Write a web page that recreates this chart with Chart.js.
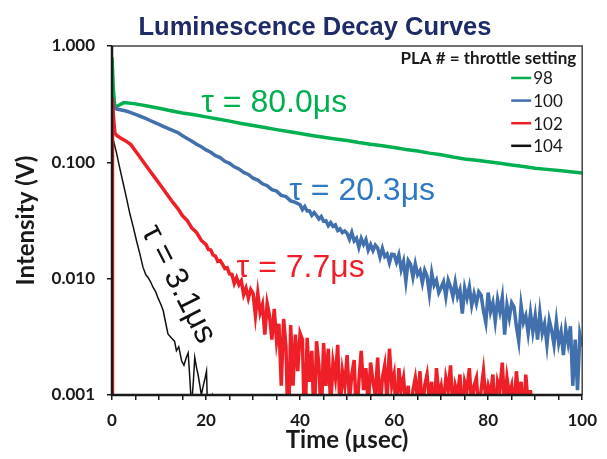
<!DOCTYPE html>
<html>
<head>
<meta charset="utf-8">
<script src="https://cdn.jsdelivr.net/npm/chart.js@4.4.0/dist/chart.umd.min.js"></script>
<style>
  html, body { margin: 0; padding: 0; background: #fff; }
  #wrap { width: 607px; height: 459px; }
</style>
</head>
<body>
<div id="wrap"><canvas id="decay" width="607" height="459"></canvas></div>
<script>
// values (time in µs, intensity in V)
const chartTitle = 'Luminescence Decay Curves';
const xTitle = 'Time (µsec)';
const yTitle = 'Intensity (V)';
const legendTitle = 'PLA # = throttle setting';
const seriesLabels = ['98', '100', '102', '104'];
const tauLabels = ['τ = 80.0μs', 'τ = 20.3μs', 'τ = 7.7μs', 'τ = 3.1μs'];
const xLabelValues = [0, 20, 40, 60, 80, 100];
const yTickValues = [0.001, 0.01, 0.1, 1];
const yTickLabels = ['0.001', '0.010', '0.100', '1.000'];

const time98 = [0, 0.3, 0.6, 1.2, 2.5, 5, 7.5, 10, 12.5, 15, 17.5, 20, 22.5, 25, 27.5, 30, 32.5, 35, 37.5, 40,
  42.5, 45, 47.5, 50, 52.5, 55, 57.5, 60, 62.5, 65, 67.5, 70, 72.5, 75, 77.5, 80, 82.5, 85, 87.5, 90, 92.5, 95, 97.5, 100];
const volt98 = [0.80, 0.42, 0.30, 0.305, 0.326, 0.318, 0.305, 0.292, 0.278, 0.266, 0.256, 0.246, 0.236, 0.226, 0.216, 0.207, 0.199, 0.191, 0.184, 0.177,
  0.170, 0.164, 0.159, 0.154, 0.148, 0.143, 0.139, 0.134, 0.129, 0.125, 0.120, 0.116, 0.111, 0.107, 0.104, 0.101, 0.098, 0.095, 0.092, 0.089, 0.087, 0.085, 0.083, 0.081];

const time100 = [0, 0.3, 1, 2, 3, 4, 5, 6, 7, 8, 9, 10, 11, 12, 13, 14, 15, 16, 17, 18, 19,
  20, 21, 22, 23, 24, 25, 26, 27, 28, 29, 30, 31, 32, 33, 34, 35, 36, 37, 38, 39,
  40, 40.5, 41, 41.5, 42, 42.5, 43, 43.5, 44, 44.5, 45, 45.5, 46, 46.5, 47, 47.5, 48, 48.5, 49, 49.5,
  50, 50.5, 51, 51.5, 52, 52.5, 53, 53.5, 54, 54.5, 55, 55.5, 56, 56.5, 57, 57.5, 58, 58.5, 59, 59.5,
  60, 60.5, 61, 61.5, 62, 62.5, 63, 63.5, 64, 64.5, 65, 65.5, 66, 66.5, 67, 67.5, 68, 68.5, 69, 69.5,
  70, 70.5, 71, 71.5, 72, 72.5, 73, 73.5, 74, 74.5, 75, 75.5, 76, 76.5, 77, 77.5, 78, 78.5, 79, 79.5,
  80, 80.5, 81, 81.5, 82, 82.5, 83, 83.5, 84, 84.5, 85, 85.5, 86, 86.5, 87, 87.5, 88, 88.5, 89, 89.5,
  90, 90.5, 91, 91.5, 92, 92.5, 93, 93.5, 94, 94.5, 95, 95.5, 96, 96.5, 97, 97.5, 98, 98.5, 99, 99.5, 100];
const volt100 = [0.36, 0.30, 0.287, 0.282, 0.276, 0.268, 0.258, 0.249, 0.240, 0.230, 0.221, 0.212, 0.203, 0.195, 0.187, 0.180, 0.169, 0.160, 0.152, 0.143, 0.136,
  0.128, 0.122, 0.114, 0.110, 0.102, 0.0980, 0.0915, 0.0878, 0.0818, 0.0787, 0.0730, 0.0703, 0.0654, 0.0630, 0.0582, 0.0565, 0.0520, 0.0507, 0.0466, 0.0452,
  0.0432, 0.0392, 0.0417, 0.0382, 0.0383, 0.0350, 0.0370, 0.0349, 0.0326, 0.0342, 0.0311, 0.0314, 0.0285, 0.0303, 0.0282, 0.0290, 0.0259, 0.0268, 0.0249, 0.0257,
  0.0245, 0.0218, 0.0250, 0.0211, 0.0223, 0.0186, 0.0221, 0.0197, 0.0217, 0.0176, 0.0196, 0.0174, 0.0194, 0.0183, 0.0153, 0.0182, 0.0155, 0.0163, 0.0137, 0.0162,
  0.0161, 0.0138, 0.0160, 0.0120, 0.0141, 0.0095, 0.0143, 0.0133, 0.0103, 0.0134, 0.0108, 0.0117, 0.0092, 0.0118, 0.0105, 0.0074, 0.0112, 0.0088, 0.0097, 0.0076,
  0.0084, 0.0094, 0.0070, 0.0097, 0.0085, 0.0070, 0.0093, 0.0070, 0.0080, 0.0050, 0.0083, 0.0068, 0.0085, 0.0059, 0.0074, 0.0061, 0.0077, 0.0072, 0.0053, 0.0042,
  0.0076, 0.0052, 0.0062, 0.0043, 0.0066, 0.0052, 0.0069, 0.0033, 0.0059, 0.0046, 0.0062, 0.0057, 0.0039, 0.0029, 0.0059, 0.0042, 0.0048, 0.0034, 0.0051, 0.0035,
  0.0048, 0.0030, 0.0051, 0.0034, 0.0041, 0.0027, 0.0044, 0.0036, 0.0027, 0.0043, 0.0028, 0.0035, 0.0022, 0.0037, 0.0028, 0.0039, 0.0012, 0.0030, 0.0011, 0.0033, 0.0026];

const time102 = [0, 0.1, 0.3, 0.6, 1, 2, 3, 4, 5, 6, 7, 8, 9, 10, 11, 12, 13, 14, 15, 16, 17, 18, 19,
  20, 20.5, 21, 21.5, 22, 22.5, 23, 23.5, 24, 24.5, 25, 25.5, 26, 26.5, 27, 27.5, 28, 28.5, 29, 29.5,
  30, 30.5, 31, 31.5, 32, 32.5, 33, 33.5, 34, 34.5, 35, 35.5, 36, 36.5, 37, 37.5, 38, 38.5, 39, 39.5,
  40, 40.5, 41, 41.5, 42, 42.5, 43, 43.5, 44, 44.5, 45, 45.5, 46, 46.5, 47, 47.5, 48, 48.5, 49, 49.5,
  50, 50.5, 51, 51.5, 52, 52.5, 53, 53.5, 54, 54.5, 55, 55.5, 56, 56.5, 57, 57.5, 58, 58.5, 59, 59.5,
  60, 60.5, 61, 61.5, 62, 62.5, 63, 63.5, 64, 64.5, 65, 65.5, 66, 66.5, 67, 67.5, 68, 68.5, 69, 69.5,
  70, 70.5, 71, 71.5, 72, 72.5, 73, 73.5, 74, 74.5, 75, 75.5, 76, 76.5, 77, 77.5, 78, 78.5, 79, 79.5,
  80, 80.5, 81, 81.5, 82, 82.5, 83, 83.5, 84, 84.5, 85, 85.5, 86, 86.5, 87, 87.5, 88, 88.5, 89, 89.5];
const volt102 = [0.0008, 0.355, 0.25, 0.18, 0.17, 0.16, 0.152, 0.142, 0.125, 0.110, 0.0968, 0.0852, 0.0750, 0.0660, 0.0581, 0.0511, 0.0450, 0.0400, 0.0347, 0.0316, 0.0272, 0.0249, 0.0213,
  0.0196, 0.0178, 0.0176, 0.0160, 0.0156, 0.0141, 0.0143, 0.0133, 0.0122, 0.0124, 0.0110, 0.0109, 0.0091, 0.0102, 0.0089, 0.0096, 0.0073, 0.0083, 0.0068, 0.0081,
  0.0075, 0.0048, 0.0075, 0.0051, 0.0060, 0.0033, 0.0061, 0.0048, 0.0030, 0.0055, 0.0029, 0.0041, 0.0012, 0.0045, 0.0026, 0.0004, 0.0040, 0.0012, 0.0033, 0.0016,
  0.0034, 0.0030, 0.0004, 0.0031, 0.0013, 0.0024, 0.0005, 0.0029, 0.0018, 0.0006, 0.0028, 0.0012, 0.0025, 0.0008, 0.0019, 0.0014, 0.0027, 0.0007, 0.0016, 0.0012,
  0.0022, 0.0009, 0.0015, 0.0020, 0.0006, 0.0013, 0.0024, 0.0011, 0.0017, 0.0008, 0.0019, 0.0013, 0.0010, 0.0021, 0.0007, 0.0014, 0.0018, 0.0009, 0.0025, 0.0012,
  0.0015, 0.0006, 0.0017, 0.0011, 0.0014, 0.0008, 0.0012, 0.0005, 0.0011, 0.0014, 0.0009, 0.0016, 0.0007, 0.0012, 0.0015, 0.0009, 0.0013, 0.0006, 0.0017, 0.0010,
  0.0012, 0.0008, 0.0014, 0.0011, 0.0018, 0.0007, 0.0012, 0.0010, 0.0015, 0.0006, 0.0013, 0.0011, 0.0017, 0.0008, 0.0012, 0.0014, 0.0007, 0.0011, 0.0016, 0.0009,
  0.0012, 0.0010, 0.0015, 0.0006, 0.0013, 0.0011, 0.0019, 0.0008, 0.0014, 0.0010, 0.0012, 0.0007, 0.0016, 0.0009, 0.0013, 0.0006, 0.0015, 0.0008, 0.0011, 0.0004];

const time104 = [0, 0.3, 1, 1.5, 2.4, 3.1, 3.8, 4.5, 5.2, 5.9, 6.6, 7.2, 7.7, 8.2, 8.75, 9.3, 9.8, 10.4, 10.9, 11.4,
  11.9, 12.6, 13.3, 13.7, 14.2, 14.8, 15.3, 15.8, 16.2, 16.5, 16.9, 17.3, 17.6, 18, 18.3, 18.7, 19, 19.4, 19.8, 20.1,
  20.3, 20.8, 21.3, 21.6];
const volt104 = [0.165, 0.154, 0.119, 0.095, 0.0654, 0.049, 0.0361, 0.028, 0.0213, 0.0165, 0.0125, 0.0108, 0.0102, 0.0094, 0.0084, 0.0077, 0.0068, 0.0060, 0.0053, 0.0042,
  0.00335, 0.0031, 0.0029, 0.0024, 0.0026, 0.00197, 0.0018, 0.0021, 0.0023, 0.0015, 0.0008, 0.0013, 0.0021, 0.0017, 0.0015, 0.0012, 0.0010, 0.0012, 0.0014, 0.0016,
  0.0008, 0.0009, 0.0010, 0.0008];

const toPoints = (t, v) => t.map((x, i) => ({ x: x, y: v[i] }));

// title drawn a bit right of the canvas centre, like the original slide
const slideTitle = {
  id: 'slideTitle',
  afterDraw(chart) {
    const { ctx } = chart;
    ctx.save();
    ctx.font = 'bold 25.5px "Liberation Sans"';
    ctx.fillStyle = '#1f2b66';
    ctx.textAlign = 'center';
    ctx.textBaseline = 'alphabetic';
    ctx.fillText(chartTitle, 315, 35);
    ctx.restore();
  }
};

// legend drawn inside the plot, top right
const legendBox = {
  id: 'legendBox',
  afterDraw(chart) {
    const { ctx, chartArea } = chart;
    ctx.save();
    ctx.fillStyle = '#1a1a1a';
    ctx.textBaseline = 'middle';
    ctx.textAlign = 'right';
    ctx.font = 'bold 17px Lato';
    ctx.fillText(legendTitle, chartArea.right - 6, chartArea.top + 13);
    ctx.font = '17px Lato';
    ctx.textAlign = 'left';
    chart.data.datasets.forEach((ds, i) => {
      const y = chartArea.top + 32 + i * 22.6;
      const x0 = chartArea.right - 71;
      ctx.strokeStyle = ds.borderColor;
      ctx.lineWidth = 2.5;
      ctx.beginPath();
      ctx.moveTo(x0, y);
      ctx.lineTo(x0 + 20, y);
      ctx.stroke();
      ctx.fillText(ds.label, x0 + 22, y + 1);
    });
    ctx.restore();
  }
};

// box round the plot, axis lines on top of the traces
const frame = {
  id: 'frame',
  afterDatasetsDraw(chart) {
    const { ctx, chartArea: a } = chart;
    ctx.save();
    ctx.strokeStyle = '#444';
    ctx.lineWidth = 1.5;
    ctx.beginPath();
    ctx.moveTo(a.left, a.top);
    ctx.lineTo(a.right, a.top);
    ctx.lineTo(a.right, a.bottom);
    ctx.stroke();
    ctx.strokeStyle = '#1a1a1a';
    ctx.lineWidth = 2.5;
    ctx.beginPath();
    ctx.moveTo(a.left, a.top);
    ctx.lineTo(a.left, a.bottom);
    ctx.lineTo(a.right, a.bottom);
    ctx.stroke();
    ctx.restore();
  }
};

// tau notes placed in data coordinates
const tauNotes = {
  id: 'tauNotes',
  afterDatasetsDraw(chart, args, opts) {
    const { ctx, scales } = chart;
    opts.items.forEach(n => {
      ctx.save();
      ctx.translate(scales.x.getPixelForValue(n.x), scales.y.getPixelForValue(n.y));
      ctx.rotate(n.angle * Math.PI / 180);
      ctx.font = '32px "Liberation Sans"';
      ctx.fillStyle = n.color;
      ctx.textAlign = 'left';
      ctx.textBaseline = 'middle';
      ctx.fillText(n.text, 0, 0);
      ctx.restore();
    });
  }
};

const tickFont = { family: 'Lato', size: 17, weight: 'bold' };
const axisTitleFont = { family: 'Lato', size: 24, weight: 'bold' };

new Chart(document.getElementById('decay'), {
  type: 'line',
  data: {
    datasets: [
      { label: seriesLabels[0], data: toPoints(time98, volt98), borderColor: '#00b050', borderWidth: 3.5, order: 3 },
      { label: seriesLabels[1], data: toPoints(time100, volt100), borderColor: '#4170ad', borderWidth: 3.5, order: 2 },
      { label: seriesLabels[2], data: toPoints(time102, volt102), borderColor: '#ee1f26', borderWidth: 3.5, order: 0 },
      { label: seriesLabels[3], data: toPoints(time104, volt104), borderColor: '#111111', borderWidth: 1.5, order: 1 }
    ]
  },
  options: {
    responsive: false,
    animation: false,
    devicePixelRatio: 1,
    layout: { padding: { left: 0, right: 23, top: 46, bottom: 0 } },
    elements: { point: { radius: 0 }, line: { tension: 0 } },
    plugins: {
      legend: { display: false },
      tooltip: { enabled: false },
      title: { display: false },
      tauNotes: {
        items: [
          { text: tauLabels[0], x: 19.0, y: 0.321, angle: 0, color: '#00b050' },
          { text: tauLabels[1], x: 37.7, y: 0.0561, angle: 0, color: '#2f78c4' },
          { text: tauLabels[2], x: 26.5, y: 0.0124, angle: 0, color: '#ee1f26' },
          { text: tauLabels[3], x: 7.9, y: 0.0277, angle: 63, color: '#111111' }
        ]
      }
    },
    scales: {
      x: {
        type: 'linear',
        min: 0,
        max: 100,
        afterFit: s => { s.height = 64; },
        ticks: {
          stepSize: 5,
          autoSkip: false,
          maxRotation: 0,
          padding: 10,
          color: '#1a1a1a',
          font: tickFont,
          callback: v => xLabelValues.includes(v) ? String(v) : ''
        },
        grid: { drawOnChartArea: false, drawTicks: true, tickLength: 5, color: '#1a1a1a', lineWidth: 1.5 },
        border: { display: false },
        title: {
          display: true,
          text: xTitle,
          color: '#1a1a1a',
          font: axisTitleFont,
          padding: { top: 0, bottom: 4 }
        }
      },
      y: {
        type: 'logarithmic',
        min: 0.001,
        max: 1,
        afterFit: s => { s.width = 112; },
        afterBuildTicks: s => { s.ticks = yTickValues.map(v => ({ value: v, major: true })); },
        ticks: {
          autoSkip: false,
          padding: 12,
          color: '#1a1a1a',
          font: tickFont,
          callback: v => yTickLabels[yTickValues.indexOf(v)]
        },
        grid: { drawOnChartArea: false, drawTicks: true, tickLength: 5, color: '#1a1a1a', lineWidth: 1.5 },
        border: { display: false },
        title: {
          display: true,
          text: yTitle,
          color: '#1a1a1a',
          font: axisTitleFont,
          padding: { top: 12, bottom: 0 }
        }
      }
    }
  },
  plugins: [frame, tauNotes, legendBox, slideTitle]
});
</script>
</body>
</html>
